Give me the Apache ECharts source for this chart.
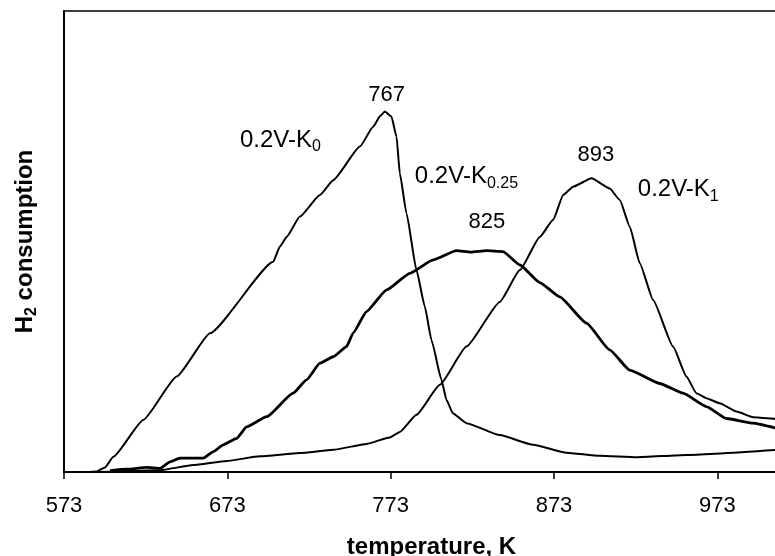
<!DOCTYPE html>
<html>
<head>
<meta charset="utf-8">
<script src="https://cdn.jsdelivr.net/npm/echarts@6/dist/echarts.min.js"></script>
<style>
  html, body { margin: 0; padding: 0; background: #fff; }
  #chart { width: 775px; height: 556px; }
</style>
</head>
<body>
<div id="chart"></div>
<script>
// x ticks (K)
var xTicks = [573, 673, 773, 873, 973];

// 0.2V-K0 : temperature (K) and H2 consumption (arb. units)
var k0Temp = [573, 588, 593, 598.1, 603.2, 621.5, 642, 662.4, 701.1, 705.2, 709.3, 717.4, 729.7, 737.8, 754.2, 762.3, 766.5, 769.4, 773.5, 776.6, 778.6, 782.7, 788.8, 793.9, 798, 804.1, 807.2, 811.2, 819.4, 839.8, 860.2, 880.6, 901, 923.5, 953.9, 1009];
var k0Val  = [0, 0, 0.1, 1.0, 3.3, 11.3, 20.7, 30.1, 45.6, 48.9, 51.0, 55.4, 60.1, 63.3, 70.6, 74.9, 77.2, 78.2, 77.1, 72.7, 64.8, 56.1, 43.8, 35.9, 28.6, 20.0, 15.6, 12.7, 10.6, 8.0, 5.9, 4.2, 3.5, 3.2, 3.7, 4.8];

// 0.2V-K0.25 (noisy trace)
var k025Temp = [601.2, 611.4, 623.6, 631.8, 637.9, 644, 658.3, 664.4, 670.5, 678.7, 684.8, 697.1, 713.3, 721.5, 729.7, 737.8, 746, 750.1, 758.2, 770.5, 784.7, 799, 813.3, 822, 831.7, 841.8, 852.1, 864.3, 876.5, 892.9, 907.1, 919.4, 937.7, 952, 966.3, 978.6, 994.9, 1009];
var k025Val  = [0.3, 0.6, 1.0, 0.8, 2.2, 3.0, 3.0, 4.4, 5.9, 7.3, 9.8, 12.0, 17.1, 20.0, 23.6, 25.0, 27.2, 30.2, 34.8, 39.5, 43.1, 46.0, 48.0, 47.7, 48.0, 47.8, 44.9, 41.1, 38.0, 32.3, 26.5, 22.1, 19.2, 17.1, 14.2, 11.6, 10.6, 9.5];

// 0.2V-K1
var k1Temp = [593, 631.8, 652.1, 672.6, 693, 717.4, 737.8, 758.2, 772.5, 778.6, 788.8, 803.1, 819.4, 839.8, 852.1, 864.3, 872.5, 878.6, 884.7, 896, 907.1, 913.3, 919.4, 925.5, 933.7, 945.9, 954.1, 960.2, 966.3, 974.5, 984.7, 994.9, 1009];
var k1Val  = [0, 0.4, 1.5, 2.4, 3.4, 4.1, 4.8, 6.1, 7.5, 8.7, 12.4, 18.9, 27.2, 36.9, 43.8, 51.0, 54.7, 60.1, 61.9, 63.7, 61.5, 59.0, 53.2, 45.3, 37.3, 27.2, 20.7, 17.1, 16.0, 14.9, 13.1, 11.9, 11.5];

// annotations: text, anchor temperature, anchor value, placement
var annText = ['767', '{m|0.2V-K}{s|0}', '{m|0.2V-K}{s|0.25}', '825', '893', '{m|0.2V-K}{s|1}'];
var annTemp = [770.5, 680.7, 787.8, 831.9, 898.6, 924.3];
var annVal  = [81.8, 72.0, 64.1, 54.3, 68.8, 61.2];
var annPos  = ['inside', 'right', 'right', 'inside', 'inside', 'right'];

function zip(xs, ys) {
  return xs.map(function (x, i) { return [x, ys[i]]; });
}

var font = '"Liberation Sans", Arial, sans-serif';

var myChart = echarts.init(document.getElementById('chart'));

var option = {
  animation: false,
  backgroundColor: '#fff',
  grid: {
    left: 64, top: 11, width: 735, bottom: 84,
    outerBoundsMode: 'none', containLabel: false,
    show: true, borderColor: '#000', borderWidth: 1.5
  },
  xAxis: {
    type: 'value',
    min: 573, max: 1023, interval: 100,
    name: 'temperature, K',
    nameLocation: 'middle',
    nameGap: 63,
    nameTextStyle: { fontSize: 24, fontWeight: 'bold', color: '#000', fontFamily: font },
    axisLine: { lineStyle: { color: '#000', width: 2 } },
    axisTick: { show: true, length: 7, lineStyle: { color: '#000', width: 1.5 } },
    axisLabel: {
      margin: 23, fontSize: 22, color: '#000', fontFamily: font,
      showMaxLabel: false,
      formatter: function (v) { return xTicks.indexOf(v) >= 0 ? String(v) : ''; }
    },
    splitLine: { show: false }
  },
  yAxis: {
    type: 'value',
    min: 0, max: 100,
    name: '{b|H}{s|2}{b| consumption}',
    nameLocation: 'middle',
    nameRotate: 90,
    nameGap: 24,
    nameTextStyle: {
      color: '#000', fontFamily: font,
      rich: {
        b: { fontSize: 24, fontWeight: 'bold', lineHeight: 30, fontFamily: font, color: '#000' },
        s: { fontSize: 16, fontWeight: 'bold', verticalAlign: 'bottom', lineHeight: 16, fontFamily: font, color: '#000' }
      }
    },
    axisLine: { show: true, lineStyle: { color: '#000', width: 2 } },
    axisTick: { show: false },
    axisLabel: { show: false },
    splitLine: { show: false }
  },
  series: [
    {
      name: '0.2V-K0', type: 'line', data: zip(k0Temp, k0Val),
      symbol: 'none', smooth: 0.15, smoothMonotone: 'x',
      lineStyle: { color: '#000', width: 2 }, z: 3,
      markPoint: {
        symbol: 'circle', symbolSize: 0,
        label: {
          color: '#000', fontSize: 22, fontFamily: font,
          rich: {
            m: { fontSize: 24, lineHeight: 30, fontFamily: font, color: '#000' },
            s: { fontSize: 16, lineHeight: 16, verticalAlign: 'bottom', fontFamily: font, color: '#000' }
          }
        },
        data: annText.map(function (t, i) {
          return {
            coord: [annTemp[i], annVal[i]],
            label: { formatter: t, position: annPos[i], distance: 0 }
          };
        })
      }
    },
    {
      name: '0.2V-K0.25', type: 'line', data: zip(k025Temp, k025Val),
      symbol: 'none', smooth: 0.15, smoothMonotone: 'x',
      lineStyle: { color: '#000', width: 2.8 }, z: 3
    },
    {
      name: '0.2V-K1', type: 'line', data: zip(k1Temp, k1Val),
      symbol: 'none', smooth: 0.15, smoothMonotone: 'x',
      lineStyle: { color: '#000', width: 2 }, z: 3
    }
  ]
};

myChart.setOption(option);
</script>
</body>
</html>
